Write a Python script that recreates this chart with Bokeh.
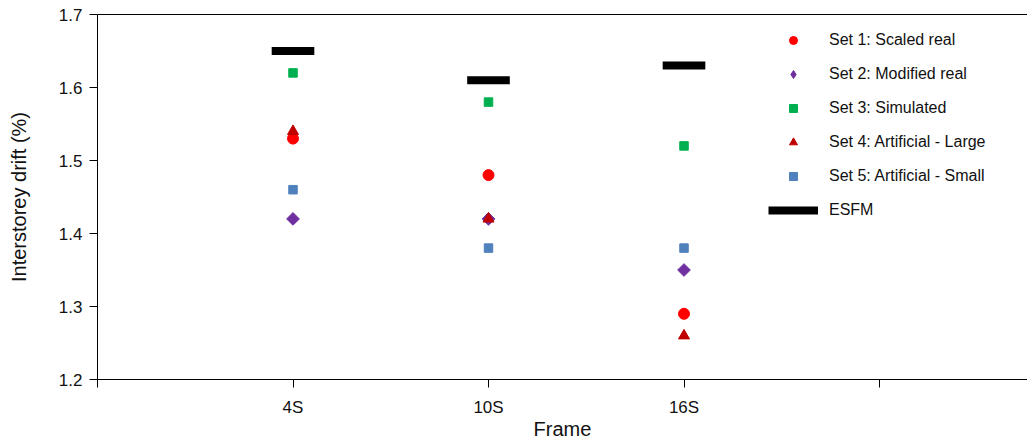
import math

from bokeh.embed import file_html
from bokeh.models import FixedTicker, Legend, LegendItem, LinearAxis, Range1d
from bokeh.plotting import figure
from bokeh.resources import INLINE

# Peak interstorey drift per frame for each ground-motion set
frames = ["4S", "10S", "16S"]
set1_scaled_real = [1.53, 1.48, 1.29]
set2_modified_real = [1.42, 1.42, 1.35]
set3_simulated = [1.62, 1.58, 1.52]
set4_artificial_large = [1.54, 1.42, 1.26]
set5_artificial_small = [1.46, 1.38, 1.38]
esfm = [1.65, 1.61, 1.63]

y_ticks = [1.2, 1.3, 1.4, 1.5, 1.6, 1.7]
x_ticks = [0, 1, 2, 3, 4]

FONT = "Liberation Sans"
TEXT = "#111111"

x = [i + 1 for i in range(len(frames))]

p = figure(
    width=1027, height=442,
    output_backend="svg", toolbar_location=None,
    x_range=Range1d(0, 4.757), y_range=Range1d(1.2, 1.7),
    min_border_left=97, min_border_right=0,
    min_border_top=14, min_border_bottom=63,
)
p.outline_line_color = None
p.xgrid.grid_line_color = None
p.ygrid.grid_line_color = None
p.background_fill_color = "white"
p.border_fill_color = "white"

# ESFM estimate drawn as a short thick horizontal bar at each frame
half = 0.109
r_esfm = p.segment(x0=[v - half for v in x], y0=esfm,
                   x1=[v + half for v in x], y1=esfm,
                   line_color="black", line_width=8, line_cap="butt")

r1 = p.scatter(x, set1_scaled_real, marker="circle", size=11,
               fill_color="#FF0000", line_color="#FF0000")
r2 = p.scatter(x, set2_modified_real, marker="square", angle=math.pi / 4, size=9,
               fill_color="#7030A0", line_color="#7030A0")
r3 = p.scatter(x, set3_simulated, marker="square", size=8.5,
               fill_color="#00B050", line_color="#00B050")
r4 = p.scatter(x, set4_artificial_large, marker="triangle", size=11,
               fill_color="#C00000", line_color="#C00000")
r5 = p.scatter(x, set5_artificial_small, marker="square", size=8.5,
               fill_color="#4F81BD", line_color="#4F81BD")

# Legend key for set 2: a diamond glyph with no points of its own
r2_key = p.scatter([float("nan")], [float("nan")], marker="diamond", size=10,
                   fill_color="#7030A0", line_color="#7030A0")

legend = Legend(
    items=[
        LegendItem(label="Set 1: Scaled real", renderers=[r1]),
        LegendItem(label="Set 2: Modified real", renderers=[r2_key]),
        LegendItem(label="Set 3: Simulated", renderers=[r3]),
        LegendItem(label="Set 4: Artificial - Large", renderers=[r4]),
        LegendItem(label="Set 5: Artificial - Small", renderers=[r5]),
        LegendItem(label="ESFM", renderers=[r_esfm]),
    ],
    location=(671, 159),
    glyph_width=50, glyph_height=20, label_height=20,
    spacing=14, label_standoff=11, padding=0, margin=0,
    border_line_color=None, background_fill_alpha=0,
    label_text_font=FONT, label_text_font_size="16px", label_text_color=TEXT,
)
p.add_layout(legend)

# Axes
xa = p.xaxis[0]
xa.ticker = FixedTicker(ticks=x_ticks)
xa.major_label_overrides = {t: (frames[t - 1] if 1 <= t <= len(frames) else "") for t in x_ticks}
xa.axis_label = "Frame"
xa.major_label_standoff = 10
xa.axis_label_standoff = -2

ya = p.yaxis[0]
ya.ticker = FixedTicker(ticks=y_ticks)
ya.axis_label = "Interstorey drift (%)"
ya.major_label_standoff = 7
ya.axis_label_standoff = 26

for ax in (xa, ya):
    ax.axis_line_color = "black"
    ax.major_tick_line_color = "black"
    ax.minor_tick_line_color = None
    ax.major_tick_in = 0
    ax.major_tick_out = 8
    ax.major_label_text_font = FONT
    ax.major_label_text_font_size = "17px"
    ax.major_label_text_color = TEXT
    ax.axis_label_text_font = FONT
    ax.axis_label_text_font_size = "20px"
    ax.axis_label_text_font_style = "normal"
    ax.axis_label_text_color = TEXT

# Plain line closing the top of the plot area
top = LinearAxis(ticker=FixedTicker(ticks=[]), axis_line_color="black",
                 major_tick_line_color=None, minor_tick_line_color=None,
                 major_label_text_font_size="0px")
p.add_layout(top, "above")

open("out.html", "w").write(file_html(p, INLINE))
